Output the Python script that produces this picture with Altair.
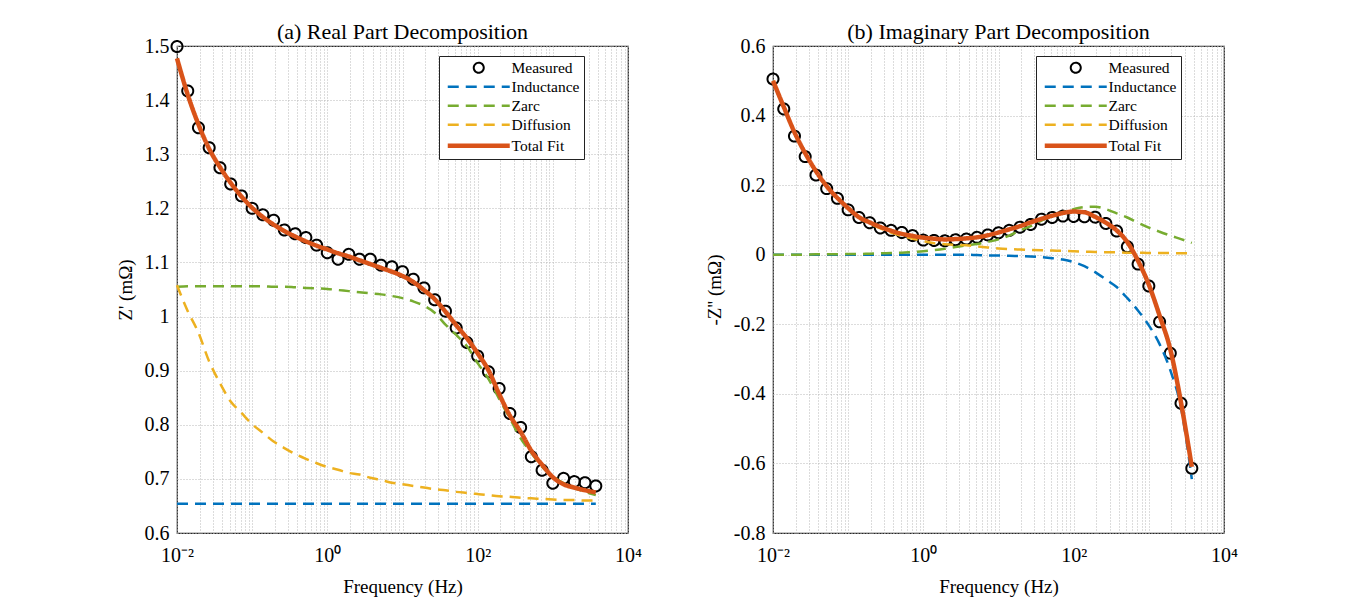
import altair as alt
import pandas as pd

FONT = "Liberation Serif"

# Frequencies of the measured points (Hz), 7 per decade
freq = [0.01, 0.0139, 0.0193, 0.0268, 0.0373, 0.0518, 0.072,
        0.1, 0.139, 0.193, 0.268, 0.373, 0.518, 0.72,
        1, 1.39, 1.93, 2.68, 3.73, 5.18, 7.2,
        10, 13.9, 19.3, 26.8, 37.3, 51.8, 72,
        100, 139, 193, 268, 373, 518, 720,
        1000, 1390, 1930, 2680, 3730]

# (a) Real part
re_measured = [1.499, 1.417, 1.349, 1.312, 1.275, 1.245, 1.223, 1.200, 1.188, 1.178,
               1.160, 1.153, 1.146, 1.132, 1.118, 1.106, 1.115, 1.106, 1.106, 1.095,
               1.092, 1.083, 1.069, 1.053, 1.031, 1.010, 0.979, 0.952, 0.927, 0.898,
               0.867, 0.821, 0.795, 0.741, 0.716, 0.692, 0.701, 0.695, 0.693, 0.687]
re_inductance = [0.654, 0.654, 0.654, 0.654, 0.654, 0.654, 0.654, 0.654, 0.654, 0.654,
                 0.654, 0.654, 0.654, 0.654, 0.654, 0.654, 0.654, 0.654, 0.654, 0.654,
                 0.654, 0.654, 0.654, 0.654, 0.654, 0.654, 0.654, 0.654, 0.654, 0.654,
                 0.654, 0.654, 0.654, 0.654, 0.654, 0.654, 0.654, 0.654, 0.654, 0.654]
re_zarc = [1.055, 1.056, 1.056, 1.056, 1.056, 1.056, 1.056, 1.056, 1.056, 1.055,
           1.055, 1.054, 1.053, 1.052, 1.051, 1.049, 1.047, 1.045, 1.043, 1.041,
           1.038, 1.034, 1.028, 1.020, 1.007, 0.985, 0.966, 0.945, 0.914, 0.885,
           0.848, 0.812, 0.775, 0.748, 0.722, 0.705, 0.692, 0.683, 0.676, 0.670]
re_diffusion = [1.058, 1.010, 0.970, 0.917, 0.877, 0.843, 0.822, 0.801, 0.785, 0.769,
                0.757, 0.746, 0.737, 0.729, 0.722, 0.717, 0.711, 0.708, 0.702, 0.698,
                0.693, 0.690, 0.687, 0.684, 0.681, 0.679, 0.676, 0.674, 0.672, 0.670,
                0.668, 0.667, 0.665, 0.664, 0.663, 0.662, 0.661, 0.661, 0.660, 0.660]
re_fit = [1.477, 1.410, 1.355, 1.310, 1.276, 1.247, 1.222, 1.201, 1.184, 1.170,
          1.158, 1.148, 1.139, 1.131, 1.124, 1.117, 1.111, 1.104, 1.097, 1.090,
          1.083, 1.075, 1.064, 1.049, 1.032, 1.009, 0.984, 0.960, 0.932, 0.901,
          0.857, 0.817, 0.787, 0.752, 0.726, 0.703, 0.690, 0.684, 0.679, 0.675]

# (b) Imaginary part (-Z'')
im_measured = [0.505, 0.419, 0.341, 0.282, 0.229, 0.190, 0.162, 0.129, 0.107, 0.092,
               0.077, 0.070, 0.064, 0.055, 0.042, 0.041, 0.040, 0.043, 0.045, 0.050,
               0.057, 0.063, 0.070, 0.079, 0.087, 0.102, 0.107, 0.111, 0.110, 0.109,
               0.108, 0.090, 0.068, 0.023, -0.027, -0.090, -0.193, -0.283, -0.427, -0.614]
im_inductance = [0.000, 0.000, 0.000, 0.000, 0.000, 0.000, 0.000, 0.000, 0.000, 0.000,
                 0.000, 0.000, 0.000, 0.000, 0.000, 0.000, 0.000, 0.000, 0.000, -0.001,
                 -0.002, -0.002, -0.003, -0.004, -0.005, -0.007, -0.010, -0.014, -0.021, -0.033,
                 -0.050, -0.071, -0.093, -0.125, -0.161, -0.203, -0.257, -0.332, -0.440, -0.645]
im_zarc = [0.000, 0.000, 0.000, 0.000, 0.001, 0.001, 0.001, 0.002, 0.002, 0.003,
           0.004, 0.005, 0.006, 0.008, 0.010, 0.013, 0.017, 0.022, 0.027, 0.031,
           0.037, 0.044, 0.055, 0.070, 0.082, 0.098, 0.112, 0.122, 0.131, 0.137,
           0.138, 0.131, 0.119, 0.107, 0.092, 0.078, 0.066, 0.055, 0.045, 0.034]
im_diffusion = [0.500, 0.425, 0.352, 0.292, 0.239, 0.196, 0.162, 0.132, 0.106, 0.090,
                0.076, 0.064, 0.054, 0.046, 0.039, 0.033, 0.030, 0.028, 0.027, 0.024,
                0.021, 0.018, 0.016, 0.015, 0.014, 0.013, 0.012, 0.011, 0.010, 0.009,
                0.008, 0.007, 0.007, 0.006, 0.006, 0.005, 0.005, 0.005, 0.004, 0.004]
im_fit = [0.500, 0.425, 0.352, 0.292, 0.240, 0.197, 0.163, 0.134, 0.108, 0.093,
          0.080, 0.069, 0.060, 0.054, 0.049, 0.046, 0.044, 0.045, 0.047, 0.050,
          0.056, 0.064, 0.073, 0.082, 0.093, 0.103, 0.112, 0.120, 0.124, 0.122,
          0.109, 0.092, 0.070, 0.036, -0.018, -0.086, -0.175, -0.272, -0.425, -0.610]

series_names = ["Measured", "Inductance", "Zarc", "Diffusion", "Total Fit"]
series_colors = ["#000000", "#0072BD", "#77AC30", "#EDB120", "#D95319"]
LINE_PATH = "M-6.2,0H6.2"
CIRCLE_PATH = "M-1,0A1,1 0 1,0 1,0A1,1 0 1,0 -1,0"
series_shapes = [CIRCLE_PATH, LINE_PATH, LINE_PATH, LINE_PATH, LINE_PATH]
series_dashes = [[1, 0], [11, 7], [11, 7], [11, 7], [1, 0]]
series_widths = [2, 2.5, 2.5, 2.5, 4.5]

x_labels = {0.01: "10⁻²", 1: "10⁰", 100: "10²", 10000: "10⁴"}
x_grid = [m * 10.0 ** e for e in range(-2, 4) for m in range(1, 10)] + [10000]
x_grid = [round(v, 6) for v in x_grid]
re_ticks = [0.6, 0.7, 0.8, 0.9, 1.0, 1.1, 1.2, 1.3, 1.4, 1.5]
im_ticks = [-0.8, -0.6, -0.4, -0.2, 0.0, 0.2, 0.4, 0.6]


def long_df(mapping):
    rows = []
    for name, vals in mapping:
        for f, v in zip(freq, vals):
            rows.append({"f": f, "series": name, "value": v})
    return pd.DataFrame(rows)


x_label_expr = " : ".join(
    [f"datum.value == {k} ? '{v}'" for k, v in x_labels.items()]) + " : ''"


def panel(title, ytitle, ydomain, yticks, meas, ind, zarc, diff, fit, lx):
    xaxis = alt.Axis(values=x_grid, labelExpr=x_label_expr, title="Frequency (Hz)",
                     labelFlush=False, labelOverlap=False, labelFontSize=20,
                     titleFontSize=19, labelPadding=12, titlePadding=12,
                     grid=True)
    yaxis = alt.Axis(values=yticks, labelExpr="replace(format(datum.value, '~g'), '\u2212', '-')",
                     title=ytitle, labelFontSize=20, titleFontSize=19,
                     labelPadding=8, titlePadding=9, grid=True)
    x = alt.X("f:Q", scale=alt.Scale(type="log", domain=[0.01, 10000], nice=False), axis=xaxis)
    y = alt.Y("value:Q", scale=alt.Scale(domain=ydomain, nice=False, zero=False), axis=yaxis)

    leg = alt.Legend(title=None, orient="none", legendX=lx, legendY=10,
                     fillColor="white", strokeColor="#222222", padding=4,
                     symbolOffset=28, labelOffset=25, symbolSize=100,
                     labelFont=FONT, labelFontSize=15.5, labelColor="black",
                     rowPadding=2, cornerRadius=0, labelLimit=200)
    cs = alt.Scale(domain=series_names, range=series_colors)
    ss = alt.Scale(domain=series_names, range=series_shapes)
    ds = alt.Scale(domain=series_names, range=series_dashes)
    ws = alt.Scale(domain=series_names, range=series_widths, type="ordinal")

    df_m = long_df([("Measured", meas)])
    df_d = long_df([("Inductance", ind), ("Zarc", zarc), ("Diffusion", diff)])
    df_f = long_df([("Total Fit", fit)])

    pts = alt.Chart(df_m).mark_point(filled=False, size=121, opacity=1).encode(
        x=x, y=y,
        color=alt.Color("series:N", scale=cs, legend=leg),
        shape=alt.Shape("series:N", scale=ss, legend=leg),
        strokeDash=alt.StrokeDash("series:N", scale=ds, legend=leg),
        strokeWidth=alt.StrokeWidth("series:N", scale=ws, legend=leg),
    )
    dashed = alt.Chart(df_d).mark_line(interpolate="monotone").encode(
        x=x, y=y,
        color=alt.Color("series:N", scale=cs, legend=None),
        strokeDash=alt.StrokeDash("series:N", scale=ds, legend=None),
        strokeWidth=alt.StrokeWidth("series:N", scale=ws, legend=None),
    )
    fitl = alt.Chart(df_f).mark_line(interpolate="monotone").encode(
        x=x, y=y,
        color=alt.Color("series:N", scale=cs, legend=None),
        strokeDash=alt.StrokeDash("series:N", scale=ds, legend=None),
        strokeWidth=alt.StrokeWidth("series:N", scale=ws, legend=None),
    )
    return alt.layer(pts, dashed, fitl).properties(
        width=451, height=487,
        title=alt.TitleParams(title, font=FONT, fontSize=22, fontWeight="normal",
                              color="black", offset=-8, anchor="middle"),
    )


left = panel("(a) Real Part Decomposition", "Z' (mΩ)", [0.6, 1.5], re_ticks,
             re_measured, re_inductance, re_zarc, re_diffusion, re_fit, 262)
right = panel("(b) Imaginary Part Decomposition", "-Z'' (mΩ)", [-0.8, 0.6], im_ticks,
              im_measured, im_inductance, im_zarc, im_diffusion, im_fit, 263)

chart = alt.hconcat(left, right, spacing=61).resolve_scale(
    x="independent", y="independent", color="independent", shape="independent",
    strokeDash="independent", strokeWidth="independent"
).resolve_legend(
    color="independent", shape="independent", strokeDash="independent", strokeWidth="independent"
).properties(
    padding={"left": 107, "top": 12, "right": 0, "bottom": 0},
    background="white",
).configure_view(
    stroke="#262626", strokeWidth=1.2
).configure_axis(
    labelFont=FONT, titleFont=FONT, labelColor="black", titleColor="black",
    titleFontWeight="normal", ticks=False, domain=False,
    gridColor="#b8b8b8", gridDash=[1, 2], gridWidth=1,
)

chart.save("out.html", embed_options={"renderer": "svg", "actions": False})
